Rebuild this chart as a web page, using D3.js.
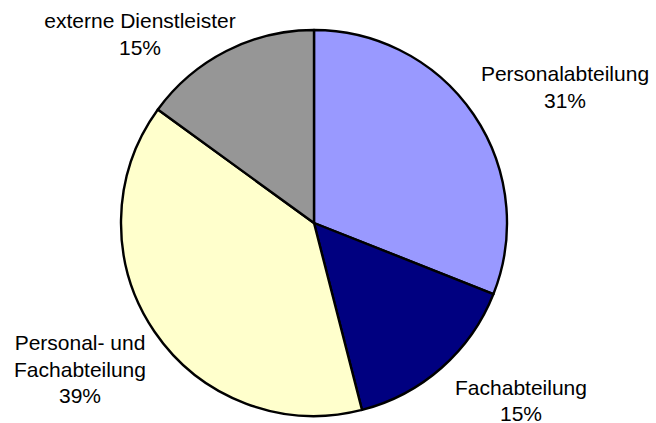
<!DOCTYPE html>
<html>
<head>
<meta charset="utf-8">
<script src="https://cdn.jsdelivr.net/npm/d3@7"></script>
<style>
  body { margin: 0; background: #fff; }
  text { font-family: "Liberation Sans", Arial, sans-serif; font-size: 21px; fill: #000; }
</style>
</head>
<body>
<div id="chart"></div>
<script>
// shares of the answers, clockwise from 12 o'clock
var categories = ["Personalabteilung", "Fachabteilung", "Personal- und Fachabteilung", "externe Dienstleister"];
var values = [31, 15, 39, 15];
var colors = ["#9999ff", "#000080", "#ffffcc", "#969696"];
// label lines as they are broken in the picture
var labelLines = [
  ["Personalabteilung", "31%"],
  ["Fachabteilung", "15%"],
  ["Personal- und", "Fachabteilung", "39%"],
  ["externe Dienstleister", "15%"]
];
var labelPos = [[565, 81], [521, 395], [80, 350], [140, 28]];

var width = 656, height = 423,
    cx = 314, cy = 223, radius = 193,
    lineHeight = 26.5;

var svg = d3.select("#chart").append("svg")
    .attr("width", width)
    .attr("height", height);

var data = categories.map(function(c, i) { return { name: c, value: values[i], i: i }; });

var pie = d3.pie()
    .sort(null)
    .value(function(d) { return d.value; });

var arc = d3.arc()
    .innerRadius(0)
    .outerRadius(radius);

var g = svg.append("g")
    .attr("transform", "translate(" + cx + "," + cy + ")");

g.selectAll(".slice")
    .data(pie(data))
    .enter().append("path")
      .attr("class", "slice")
      .attr("d", arc)
      .style("fill", function(d) { return colors[d.data.i]; })
      .style("stroke", "#000")
      .style("stroke-width", 2.4)
      .style("stroke-linejoin", "round");

var labels = svg.selectAll(".label")
    .data(data)
    .enter().append("text")
      .attr("class", "label")
      .attr("text-anchor", "middle")
      .attr("x", function(d) { return labelPos[d.i][0]; })
      .attr("y", function(d) { return labelPos[d.i][1]; });

labels.selectAll("tspan")
    .data(function(d) { return labelLines[d.i].map(function(t) { return { t: t, x: labelPos[d.i][0] }; }); })
    .enter().append("tspan")
      .attr("x", function(d) { return d.x; })
      .attr("dy", function(d, j) { return j == 0 ? 0 : (d.t == "15%" && d.x > 400 ? 25.5 : lineHeight); })
      .text(function(d) { return d.t; });
</script>
</body>
</html>
